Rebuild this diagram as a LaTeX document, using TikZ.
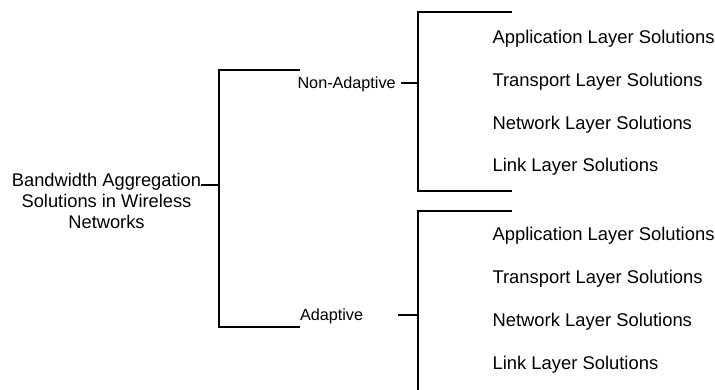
\documentclass[tikz,border=0pt]{standalone}
\usepackage{fontspec}
\setmainfont{Liberation Sans}
\begin{document}
\begin{tikzpicture}[x=1pt,y=-1pt,line width=1.1pt,
  rootlbl/.style={align=center,inner sep=0pt,font=\fontsize{18.3}{21}\selectfont},
  branchlbl/.style={anchor=base west,inner sep=0pt,font=\fontsize{16.2}{19}\selectfont},
  itemlbl/.style={anchor=base west,inner sep=0pt,font=\fontsize{18.4}{21}\selectfont},
  conn/.style={draw=black,line cap=rect}]
\useasboundingbox (0,0) rectangle (715,389);
% root
\node[rootlbl,anchor=base] (root) at (106.5,228) {Bandwidth Aggregation\\Solutions in Wireless\\Networks};
\coordinate (rstub) at (202,185);
\coordinate (lmid) at (219,185);
\coordinate (ltop) at (219,70);
\coordinate (lbot) at (219,327);
\coordinate (ltopend) at (299,70);
\coordinate (lbotend) at (299,327);
\draw[conn] (rstub) -- (lmid);
\draw[conn] (ltopend) -- (ltop) -- (lbot) -- (lbotend);
% branch labels
\node[branchlbl] (nonad) at (297,88) {Non-Adaptive};
\node[branchlbl] (adapt) at (299.5,320) {Adaptive};
% upper bracket
\coordinate (uStubL) at (402,83);
\coordinate (uMid) at (418,83);
\coordinate (uTop) at (418,12);
\coordinate (uBot) at (418,191);
\coordinate (uTopEnd) at (511,12);
\coordinate (uBotEnd) at (511,191);
\draw[conn] (uStubL) -- (uMid);
\draw[conn] (uTopEnd) -- (uTop) -- (uBot) -- (uBotEnd);
% lower bracket
\coordinate (dStubL) at (399,315);
\coordinate (dMid) at (418,315);
\coordinate (dTop) at (418,211);
\coordinate (dBot) at (418,392);
\coordinate (dTopEnd) at (511,211);
\draw[conn] (dStubL) -- (dMid);
\draw[conn] (dTopEnd) -- (dTop) -- (dBot);
% items
\node[itemlbl] (ua) at (492,43.3) {Application Layer Solutions};
\node[itemlbl] (ut) at (492,86.5) {Transport Layer Solutions};
\node[itemlbl] (un) at (492,129.5) {Network Layer Solutions};
\node[itemlbl] (ul) at (492,171.5) {Link Layer Solutions};
\node[itemlbl] (da) at (492,240.5) {Application Layer Solutions};
\node[itemlbl] (dt) at (492,283.3) {Transport Layer Solutions};
\node[itemlbl] (dn) at (492,326.5) {Network Layer Solutions};
\node[itemlbl] (dl) at (492,369.3) {Link Layer Solutions};
\end{tikzpicture}
\end{document}
